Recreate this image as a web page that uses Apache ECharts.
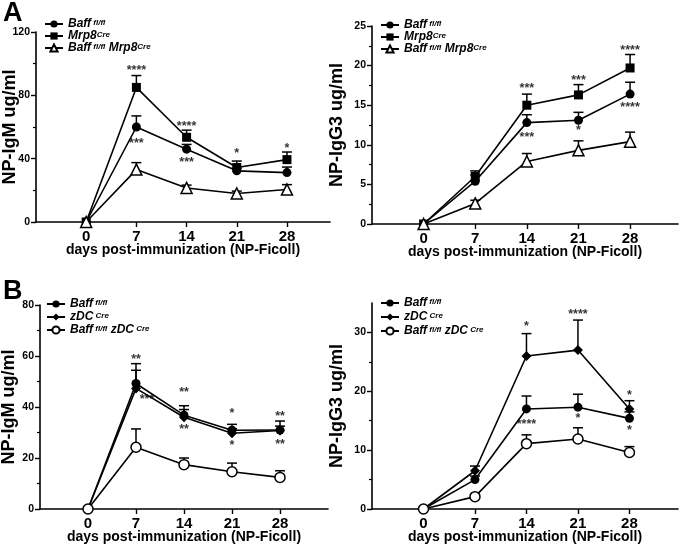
<!DOCTYPE html>
<html>
<head>
<meta charset="utf-8">
<script src="https://cdn.jsdelivr.net/npm/echarts@6/dist/echarts.min.js"></script>
<style>
html,body{margin:0;padding:0;background:#fff;}
#chart{width:683px;height:550px;}
</style>
</head>
<body>
<div id="chart"></div>
<script>
// ---------- DATA ----------
const days = [0, 7, 14, 21, 28];

// Panel A left: NP-IgM, Mrp8
const aM_baff = [0, 60, 46, 32.3, 31.2];
const aM_baffErr = [0, 67, 49, 34, 34.7];
const aM_mrp8 = [0, 85, 53.5, 34.4, 39.4];
const aM_mrp8Err = [0, 92.5, 58, 38.5, 44.2];
const aM_ko = [0, 33.1, 21.5, 18, 20.5];
const aM_koErr = [0, 37.5, 23.3, 19.5, 23.6];
const aM_stars = [[7, 96.9, '****'], [7, 50.5, '***'], [14, 61.7, '****'], [14, 39, '***'], [21, 44.2, '*'], [28, 47.8, '*']];

// Panel A right: NP-IgG3, Mrp8
const aG_baff = [0, 5.4, 12.8, 13.1, 16.4];
const aG_baffErr = [0, 6.2, 13.8, 14.1, 17.9];
const aG_mrp8 = [0, 6.0, 15.0, 16.3, 19.7];
const aG_mrp8Err = [0, 6.7, 16.4, 17.6, 21.4];
const aG_ko = [0, 2.6, 7.9, 9.3, 10.4];
const aG_koErr = [0, 3.0, 8.9, 10.5, 11.6];
const aG_stars = [[14, 17.4, '***'], [14, 11.2, '***'], [21, 18.4, '***'], [21, 12.1, '*'], [28, 22.2, '****'], [28, 15.0, '****']];

// Panel B left: NP-IgM, zDC
const bM_baff = [0, 49.2, 36.8, 30.9, 31];
const bM_baffErr = [0, 57, 40.5, 33.2, 34.5];
const bM_zdc = [0, 47.3, 36, 29.7, 30.8];
const bM_zdcErr = [0, 54.4, 39, 31.5, 32.5];
const bM_ko = [0, 24.2, 17.4, 14.6, 12.4];
const bM_koErr = [0, 31.4, 20, 18, 15];
const bM_stars = [[7, 59.3, '**'], [8.6, 43.9, '***'], [14, 46.5, '**'], [14, 31.8, '**'], [21, 38.4, '*'], [21, 25.5, '*'], [28, 37.1, '**'], [28, 26.1, '**']];

// Panel B right: NP-IgG3, zDC
const bG_baff = [0, 5.0, 17.0, 17.3, 15.4];
const bG_baffErr = [0, 5.6, 19.2, 19.5, 16.5];
const bG_zdc = [0, 6.5, 26.0, 27.0, 17.0];
const bG_zdcErr = [0, 7.3, 29.8, 32.1, 18.4];
const bG_ko = [0, 2.1, 11.1, 11.9, 9.6];
const bG_koErr = [0, 2.5, 12.6, 13.8, 10.6];
const bG_stars = [[14, 31.4, '*'], [14, 14.7, '****'], [21, 33.3, '****'], [21, 15.7, '*'], [28, 19.7, '*'], [28, 13.6, '*']];

// legend labels (rich text)
const legendText = {
  'a_baff': '{i|Baff}{s| fl/fl}',
  'a_mrp8': '{i|Mrp8}{s|Cre}',
  'a_ko': '{i|Baff}{s| fl/fl}{i| Mrp8}{s|Cre}',
  'b_baff': '{i|Baff}{s| fl/fl}',
  'b_zdc': '{i|zDC}{s| Cre}',
  'b_ko': '{i|Baff}{s| fl/fl}{i| zDC}{s| Cre}'
};

// ---------- BUILD ----------
const FONT = 'Arial, "Liberation Sans", sans-serif';
const grids = [
  {left: 36, top: 32, width: 294, height: 190},
  {left: 372, top: 26, width: 306, height: 198},
  {left: 40, top: 305, width: 288, height: 204},
  {left: 372, top: 303, width: 306, height: 206}
].map(g => Object.assign({containLabel: false, outerBoundsMode: 'none'}, g));
const xMax = [34, 34.5, 35, 34.6];
const yCfg = [
  {max: 120, interval: 40, name: 'NP-IgM ug/ml', gap: 17},
  {max: 25, interval: 5, name: 'NP-IgG3 ug/ml', gap: 26},
  {max: 80, interval: 20, name: 'NP-IgM ug/ml', gap: 22},
  {max: 35, interval: 10, name: 'NP-IgG3 ug/ml', gap: 26}
];

const xAxes = grids.map((g, i) => ({
  type: 'value', gridIndex: i, min: -7, max: xMax[i],
  axisLine: {show: true, onZero: false, lineStyle: {color: '#000', width: 1.6}},
  axisTick: {show: true, customValues: days, length: 5, lineStyle: {color: '#000', width: 1.4}},
  axisLabel: {customValues: days, color: '#000', fontWeight: 'bold', fontSize: 15, fontFamily: FONT, margin: 7},
  splitLine: {show: false},
  name: 'days post-immunization (NP-Ficoll)', nameLocation: 'middle', nameGap: 21,
  nameMoveOverlap: false,
  nameTextStyle: {color: '#000', fontWeight: 'bold', fontSize: 14, fontFamily: FONT}
}));

const yAxes = yCfg.map((c, i) => {
  const ticks = [];
  for (let v = 0; v <= c.max + 1e-9; v += c.interval) ticks.push(+v.toFixed(6));
  return {
    type: 'value', gridIndex: i, min: 0, max: c.max, interval: c.interval,
    axisLine: {show: true, onZero: false, lineStyle: {color: '#000', width: 1.6}},
    axisTick: {show: true, customValues: ticks, length: 5, lineStyle: {color: '#000', width: 1.4}},
    minorTick: {show: i !== 3, splitNumber: 2, length: 3, lineStyle: {color: '#000', width: 1.2}},
    axisLabel: {customValues: ticks, color: '#000', fontWeight: 'bold', fontSize: 10.5, fontFamily: FONT, margin: 6},
    splitLine: {show: false}, minorSplitLine: {show: false},
    name: c.name, nameLocation: 'middle', nameGap: c.gap, nameRotate: 90,
    nameMoveOverlap: false,
    nameTextStyle: {color: '#000', fontWeight: 'bold', fontSize: 18, fontFamily: FONT}
  };
});
// extra axis for minor ticks of panel B right (5, 15, 25)
yAxes.push({
  type: 'value', gridIndex: 3, min: 0, max: 35, position: 'left',
  axisLine: {show: false, onZero: false},
  axisTick: {show: true, customValues: [5, 15, 25], length: 3, lineStyle: {color: '#000', width: 1.2}},
  axisLabel: {show: false}, splitLine: {show: false}
});

const series = [];
function addGroup(panel, name, vals, errs, symbol, size, open) {
  series.push({
    type: 'custom', xAxisIndex: panel, yAxisIndex: panel, z: 2, silent: true,
    data: days.map((d, i) => [d, vals[i], errs[i]]).filter(p => p[2] > p[1]),
    renderItem: function (params, api) {
      const p0 = api.coord([api.value(0), api.value(1)]);
      const p1 = api.coord([api.value(0), api.value(2)]);
      return {
        type: 'group', children: [
          {type: 'line', shape: {x1: p0[0], y1: p0[1], x2: p1[0], y2: p1[1]}, style: {stroke: '#000', lineWidth: 1.5}},
          {type: 'line', shape: {x1: p1[0] - 5, y1: p1[1], x2: p1[0] + 5, y2: p1[1]}, style: {stroke: '#000', lineWidth: 1.5}}
        ]
      };
    }
  });
  series.push({
    type: 'line', name: name, xAxisIndex: panel, yAxisIndex: panel, z: 3, clip: false,
    data: days.map((d, i) => [d, vals[i]]),
    symbol: symbol, symbolSize: size, showAllSymbol: true,
    lineStyle: {color: '#000', width: 1.6},
    itemStyle: open ? {color: '#fff', borderColor: '#000', borderWidth: 1.5} : {color: '#000', borderColor: '#000', borderWidth: 0},
    emphasis: {disabled: true}
  });
}
function addStars(panel, stars) {
  series.push({
    type: 'scatter', xAxisIndex: panel, yAxisIndex: panel, z: 4, silent: true,
    symbolSize: 0, data: stars.map(s => ({value: [s[0], s[1]], label: {formatter: s[2]}})),
    label: {show: true, position: 'inside', color: '#000', fontSize: 12.5, fontWeight: 'bold', fontFamily: FONT, offset: [0, 2]}
  });
}

addGroup(0, 'a_baff', aM_baff, aM_baffErr, 'circle', 9, false);
addGroup(0, 'a_mrp8', aM_mrp8, aM_mrp8Err, 'rect', 9, false);
addGroup(0, 'a_ko', aM_ko, aM_koErr, 'triangle', 11, true);
addStars(0, aM_stars);

addGroup(1, 'a_baff', aG_baff, aG_baffErr, 'circle', 9, false);
addGroup(1, 'a_mrp8', aG_mrp8, aG_mrp8Err, 'rect', 9, false);
addGroup(1, 'a_ko', aG_ko, aG_koErr, 'triangle', 11, true);
addStars(1, aG_stars);

addGroup(2, 'b_baff', bM_baff, bM_baffErr, 'circle', 9, false);
addGroup(2, 'b_zdc', bM_zdc, bM_zdcErr, 'diamond', 10, false);
addGroup(2, 'b_ko', bM_ko, bM_koErr, 'circle', 10, true);
addStars(2, bM_stars);

addGroup(3, 'b_baff', bG_baff, bG_baffErr, 'circle', 9, false);
addGroup(3, 'b_zdc', bG_zdc, bG_zdcErr, 'diamond', 10, false);
addGroup(3, 'b_ko', bG_ko, bG_koErr, 'circle', 10, true);
addStars(3, bG_stars);

const rich = {
  i: {fontStyle: 'italic', fontWeight: 'bold', fontSize: 12, lineHeight: 11, fontFamily: FONT, color: '#000'},
  s: {fontStyle: 'italic', fontWeight: 'bold', fontSize: 8, fontFamily: FONT, color: '#000', verticalAlign: 'top'}
};
function mkLegend(left, top, names, gap) {
  return {
    orient: 'vertical', left: left, top: top, data: names,
    itemWidth: 18, itemHeight: 9, itemGap: gap, padding: 0,
    selectedMode: false,
    formatter: n => legendText[n],
    textStyle: {rich: rich}
  };
}

const option = {
  backgroundColor: '#fff',
  animation: false,
  grid: grids,
  xAxis: xAxes,
  yAxis: yAxes,
  legend: [
    mkLegend(44, 18, ['a_baff', 'a_mrp8', 'a_ko'], 0),
    mkLegend(380, 19, ['a_baff', 'a_mrp8', 'a_ko'], 0),
    mkLegend(46, 298, ['b_baff', 'b_zdc', 'b_ko'], 1),
    mkLegend(380, 297, ['b_baff', 'b_zdc', 'b_ko'], 2)
  ],
  graphic: [
    {type: 'text', left: 3, top: 0, style: {text: 'A', fontSize: 27, fontWeight: 'bold', fontFamily: FONT, fill: '#000'}},
    {type: 'text', left: 3, top: 278, style: {text: 'B', fontSize: 27, fontWeight: 'bold', fontFamily: FONT, fill: '#000'}}
  ],
  series: series
};

const chart = echarts.init(document.getElementById('chart'), null, {renderer: 'canvas'});
chart.setOption(option);
</script>
</body>
</html>
